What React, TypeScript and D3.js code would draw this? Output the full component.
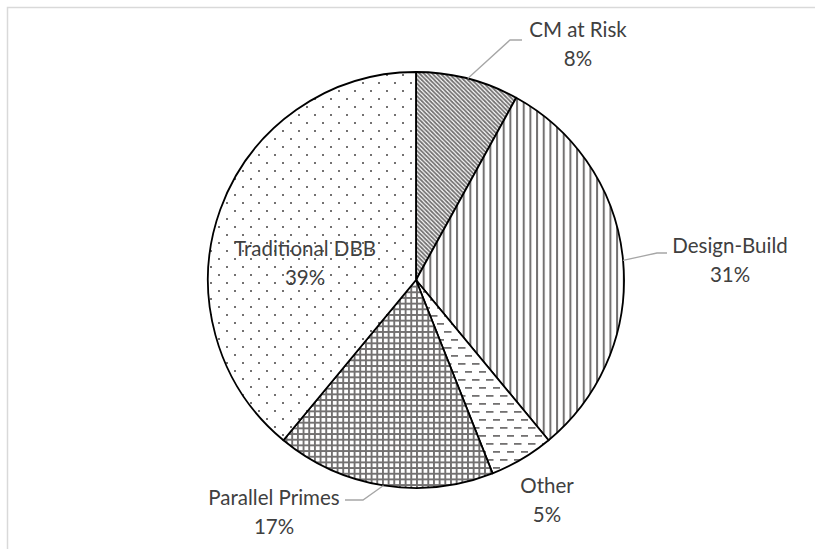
import React from 'react'
import * as d3 from 'd3'

// slice data, clockwise from 12 o'clock
const categories = ['CM at Risk', 'Design-Build', 'Other', 'Parallel Primes', 'Traditional DBB']
const shares = [8, 31, 5, 17, 39]
const percentLabels = ['8%', '31%', '5%', '17%', '39%']

/**
 * LAYOUT CONSTANTS
 */
const W = 815
const H = 549
const cx = 416
const cy = 280
const R = 208
const ink = '#737171'
const textColor = '#404040'
const lineGap = 29

const patternIds = ['p-diag', 'p-vert', 'p-dash', 'p-grid', 'p-dots']

// label centre x, first baseline y, leader elbow + end (null = no leader)
const labelLayout: { x: number; y: number; leader: number[][] | null }[] = [
  { x: 578, y: 37, leader: [[510, 40], [522, 40]] },
  { x: 730, y: 253, leader: [[657, 253], [667, 253]] },
  { x: 547, y: 493, leader: null },
  { x: 274, y: 505, leader: [[363, 500], [345, 500]] },
  { x: 305, y: 256, leader: null }
]

const App = () => {
  const pie = d3.pie<number>().sort(null).value(d => d)
  const arcs = pie(shares)
  const arc = d3.arc<d3.PieArcDatum<number>>().innerRadius(0).outerRadius(R)
  const line = d3.line()

  return (
    <svg width={W} height={H} style={{ position: 'absolute', left: 0, top: 0, background: '#fff' }}>
      <defs>
        <pattern id='p-diag' patternUnits='userSpaceOnUse' width={4.2} height={4.2}>
          <rect width={4.2} height={4.2} fill='#fff' />
          <path d='M-1,-1L5.2,5.2M-1,3.2L1,5.2M3.2,-1L5.2,1' stroke={ink} strokeWidth={1.8} />
        </pattern>
        <pattern id='p-vert' patternUnits='userSpaceOnUse' width={6.67} height={10}>
          <rect width={6.67} height={10} fill='#fff' />
          <rect x={0} width={2} height={10} fill={ink} />
        </pattern>
        <pattern id='p-dash' patternUnits='userSpaceOnUse' width={14} height={16}>
          <rect width={14} height={16} fill='#fff' />
          <rect x={0} y={3} width={7.5} height={1.8} fill={ink} />
          <rect x={7} y={11} width={7.5} height={1.8} fill={ink} />
        </pattern>
        <pattern id='p-grid' patternUnits='userSpaceOnUse' width={5.67} height={5.67}>
          <rect width={5.67} height={5.67} fill='#fff' />
          <rect x={0} width={1.9} height={5.67} fill={ink} />
          <rect y={0} width={5.67} height={1.9} fill={ink} />
        </pattern>
        <pattern id='p-dots' patternUnits='userSpaceOnUse' width={16} height={16}>
          <rect width={16} height={16} fill='#fff' />
          <rect x={2} y={2} width={2} height={2} fill={ink} />
          <rect x={10} y={10} width={2} height={2} fill={ink} />
        </pattern>
      </defs>

      {/* chart frame, right and bottom edges fall outside the picture */}
      <rect x={7.5} y={7.5} width={W + 20} height={H + 20} fill='none' stroke='#d9d9d9' strokeWidth={1.5} />

      <g transform={`translate(${cx}, ${cy})`}>
        {arcs.map((a, i) => (
          <path key={categories[i]} d={arc(a) || ''} fill={`url(#${patternIds[i]})`} stroke='#000' strokeWidth={1.8} strokeLinejoin='round' />
        ))}
      </g>

      {arcs.map((a, i) => {
        const lay = labelLayout[i]
        if (!lay.leader) return null
        const mid = (a.startAngle + a.endAngle) / 2
        const start: [number, number] = [cx + R * Math.sin(mid), cy - R * Math.cos(mid)]
        const pts = [start, ...lay.leader.map(p => [p[0], p[1]] as [number, number])]
        return <path key={`leader-${i}`} d={line(pts) || ''} fill='none' stroke='#a6a6a6' strokeWidth={1.3} />
      })}

      {categories.map((c, i) => {
        const lay = labelLayout[i]
        return (
          <text key={`label-${c}`} x={lay.x} y={lay.y} textAnchor='middle' fontFamily='Lato' fontSize={20.5} fill={textColor}>
            <tspan x={lay.x}>{c}</tspan>
            <tspan x={lay.x} dy={lineGap}>{percentLabels[i]}</tspan>
          </text>
        )
      })}
    </svg>
  )
}

export default App
